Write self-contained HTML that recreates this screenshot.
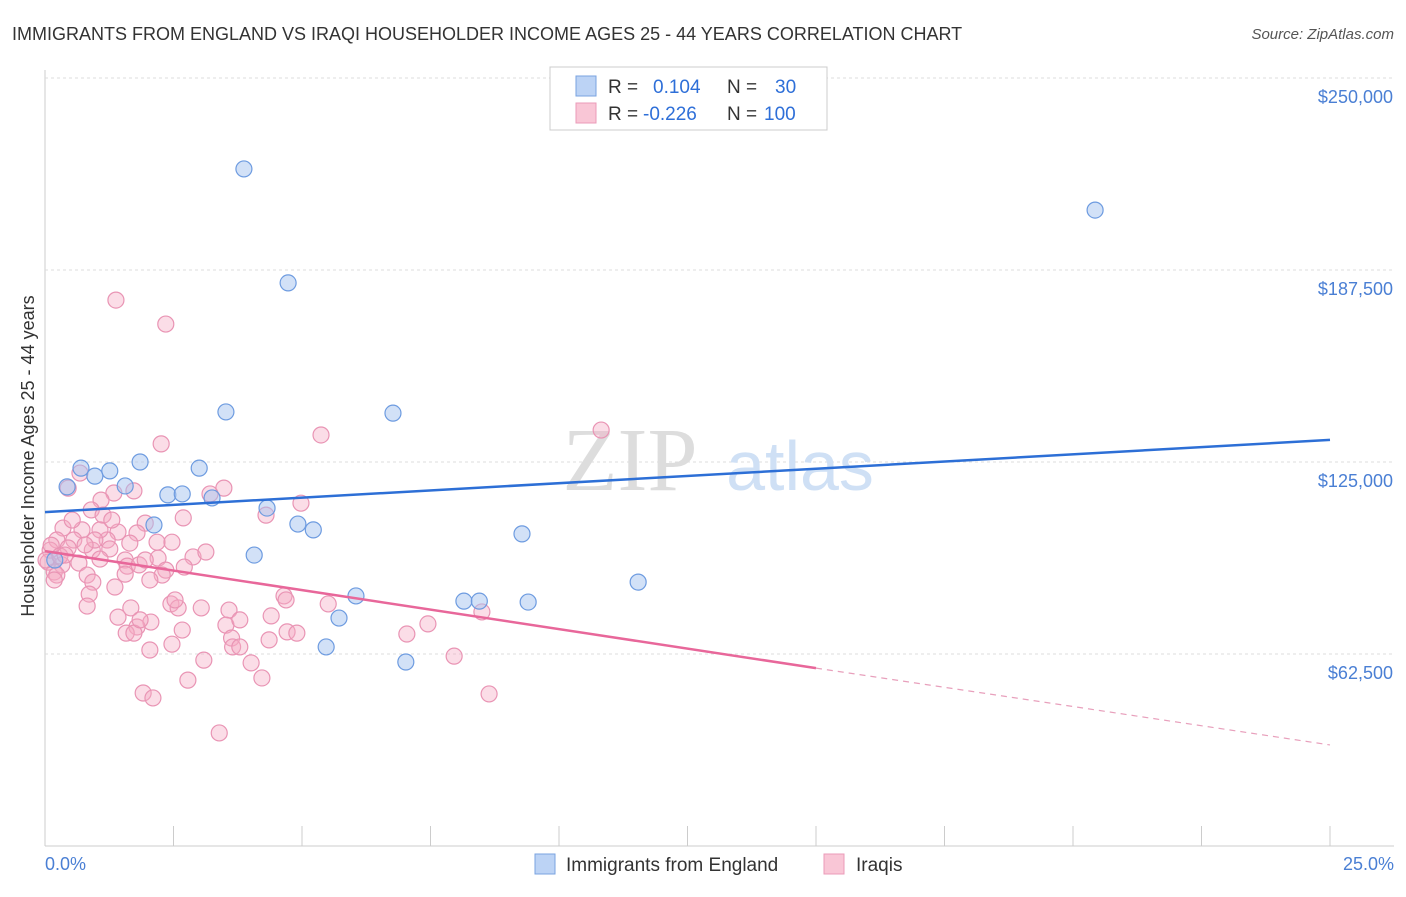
<!DOCTYPE html>
<html><head><meta charset="utf-8"><style>
body{margin:0;background:#fff;font-family:"Liberation Sans",sans-serif}
</style></head><body>
<svg width="1406" height="892" xmlns="http://www.w3.org/2000/svg">
<text x="12" y="40" font-size="18" fill="#333">IMMIGRANTS FROM ENGLAND VS IRAQI HOUSEHOLDER INCOME AGES 25 - 44 YEARS CORRELATION CHART</text>
<text x="1394" y="39" font-size="15" fill="#555" text-anchor="end" font-style="italic">Source: ZipAtlas.com</text>
<g id="grid"></g>
<text x="630" y="490" font-size="90" fill="#ddd" font-family="Liberation Serif" text-anchor="middle">ZIP</text>
<text x="800" y="490" font-size="70" fill="#cfe0f5" text-anchor="middle">atlas</text>
<g id="pts"></g>
<g id="lines"></g>
<text transform="translate(34,456) rotate(-90)" font-size="18" fill="#333" text-anchor="middle">Householder Income Ages 25 - 44 years</text>
<text x="45" y="870" font-size="18" fill="#4a7fd4">0.0%</text>
<text x="1394" y="870" font-size="18" fill="#4a7fd4" text-anchor="end">25.0%</text>
<g>
<rect x="550" y="67" width="277" height="63" fill="#fff" stroke="#ccc"/>
<rect x="576" y="76" width="20" height="20" fill="#bcd3f5" stroke="#7aa3e0"/>
<rect x="576" y="103" width="20" height="20" fill="#f9c6d6" stroke="#eb9bb8"/>
<text x="608" y="93" font-size="19" fill="#333">R = <tspan fill="#2e6fd8" x="653">0.104</tspan><tspan x="727">N =</tspan><tspan fill="#2e6fd8" x="775">30</tspan></text>
<text x="608" y="120" font-size="19" fill="#333">R = <tspan fill="#2e6fd8" x="643">-0.226</tspan><tspan x="727">N =</tspan><tspan fill="#2e6fd8" x="764">100</tspan></text>
</g>
<g>
<rect x="535" y="854" width="20" height="20" fill="#bcd3f5" stroke="#7aa3e0"/>
<text x="566" y="871" font-size="19" fill="#333">Immigrants from England</text>
<rect x="824" y="854" width="20" height="20" fill="#f9c6d6" stroke="#eb9bb8"/>
<text x="856" y="871" font-size="19" fill="#333">Iraqis</text>
</g>
</svg>
<script>
const yTicks=[62500,125000,187500,250000];
const yTickLabels=["$62,500","$125,000","$187,500","$250,000"];
const englandX=[3.87,20.43,4.73,3.52,6.77,0.70,1.85,1.26,3.00,0.97,0.43,1.56,2.39,2.67,3.25,4.32,2.12,4.92,5.22,9.28,4.07,0.19,11.54,6.05,8.15,8.45,9.40,5.72,5.47,7.02];
const englandY=[220400,207000,183300,141300,140900,123000,125000,122100,123000,120400,116900,117200,114300,114600,113300,110000,104500,104800,102900,101600,94700,93100,85900,81400,79700,79700,79400,74200,64800,59900];
const iraqiX=[1.38,2.35,10.82,5.37,2.26,0.68,0.45,1.73,3.48,3.21,1.34,1.09,4.98,4.30,2.69,0.90,1.13,1.95,0.35,0.72,1.42,1.79,0.23,0.56,1.21,1.65,2.18,2.47,0.10,0.45,0.92,1.26,2.88,2.20,1.56,1.07,0.06,0.33,0.66,1.60,0.18,0.82,1.56,2.35,2.28,0.93,0.23,1.36,0.86,4.65,4.69,5.51,2.45,0.82,2.59,1.67,3.04,3.58,8.50,1.42,4.40,2.06,3.52,7.45,1.79,2.67,1.58,1.73,4.71,4.90,7.04,3.63,2.47,3.65,3.79,2.04,3.09,4.01,7.96,4.22,2.78,1.91,2.10,8.64,3.39,0.12,0.02,0.29,1.07,1.83,3.13,0.53,1.85,2.71,0.97,0.39,0.78,1.30,2.04,2.53,3.79,0.18,1.95,4.36];
const iraqiY=[177700,169900,135400,133800,130900,121400,116500,115600,116500,114600,114900,112600,111600,107700,106800,109400,107700,105100,103500,102900,102200,101900,99600,99600,99600,98600,98900,98900,96300,97000,96300,96700,94100,93700,93100,93400,92400,91500,92100,91100,89200,88200,88500,89800,88200,85900,88200,84300,82000,81400,80100,78800,78800,78100,77500,77500,77500,76800,76200,74500,74900,72900,71900,72300,71300,70300,69300,69300,69700,69300,69000,67700,65700,64800,64800,63800,60500,59600,61800,54700,54000,49800,48200,49500,36800,97900,93100,94400,102900,91500,95700,106100,73600,90800,99600,94700,98000,106100,86600,80100,73600,86600,93100,67100];
const englandTrend=[108700,132200];
const iraqiTrend=[96000,57900,32900];
const NS="http://www.w3.org/2000/svg";
const X=p=>45+p/25*1285, Y=v=>846-v/62500*192;
function mk(t,a,par){const e=document.createElementNS(NS,t);for(const k in a)e.setAttribute(k,a[k]);document.getElementById(par).appendChild(e);return e;}
// grid
let ax=mk('line',{x1:45,y1:70,x2:45,y2:846,stroke:'#ccc'},'grid');


let bx=mk('line',{x1:45,y1:846,x2:1394,y2:846,stroke:'#ccc'},'grid');


yTicks.forEach((v,i)=>{
 let g=mk('line',{x1:45,y1:Y(v),x2:1394,y2:Y(v),stroke:'#ddd','stroke-dasharray':'3,3'},'grid');
 
 
 let t=mk('text',{x:1393,y:Y(v)+25,'font-size':18,fill:'#4a7fd4','text-anchor':'end'},'grid');
 t.textContent=yTickLabels[i];
 
 
});
let gt=mk('line',{x1:45,y1:Y(250000),x2:1394,y2:Y(250000),stroke:'#ddd','stroke-dasharray':'3,3'},'grid');
for(let i=1;i<=10;i++){
 let t=mk('line',{x1:X(i*2.5),y1:826,x2:X(i*2.5),y2:846,stroke:'#ccc'},'grid');
 
 
}
iraqiX.forEach((x,i)=>{
 let c=mk('circle',{cx:X(x),cy:Y(iraqiY[i]),r:8,fill:'rgba(246,170,196,0.4)',stroke:'#e994b4','stroke-width':1.2},'pts');
 
 
});
englandX.forEach((x,i)=>{
 let c=mk('circle',{cx:X(x),cy:Y(englandY[i]),r:8,fill:'rgba(165,195,240,0.5)',stroke:'#6d9be0','stroke-width':1.2},'pts');
 
 
});
let l1=mk('line',{x1:X(0),y1:Y(englandTrend[0]),x2:X(25),y2:Y(englandTrend[1]),stroke:'#2d6fd6','stroke-width':2.5},'lines');


let l2=mk('line',{x1:X(0),y1:Y(iraqiTrend[0]),x2:X(15),y2:Y(iraqiTrend[1]),stroke:'#e8679a','stroke-width':2.5},'lines');


let l3=mk('line',{x1:X(15),y1:Y(iraqiTrend[1]),x2:X(25),y2:Y(iraqiTrend[2]),stroke:'#e8a0bc','stroke-width':1.2,'stroke-dasharray':'6,5'},'lines');


</script>
</body></html>
